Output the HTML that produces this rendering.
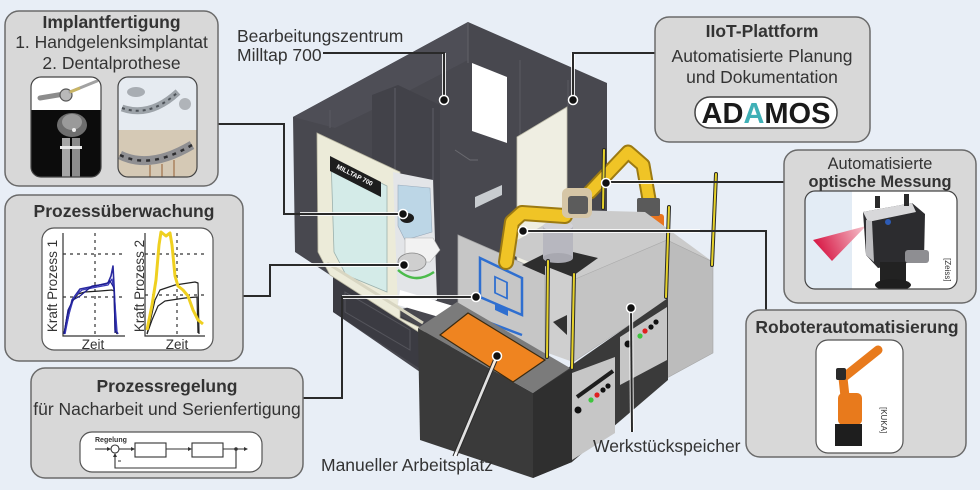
<!DOCTYPE html>
<html><head><meta charset="utf-8"><style>
html,body{margin:0;padding:0;background:#e8eef6;}
svg{display:block;font-family:"Liberation Sans",Arial,sans-serif;}
</style></head><body>
<svg width="980" height="490" viewBox="0 0 980 490" xmlns="http://www.w3.org/2000/svg">
<defs>
<linearGradient id="cone" x1="1" y1="0" x2="0" y2="0.3"><stop offset="0" stop-color="#f6c6cf"/><stop offset="1" stop-color="#d81c48"/></linearGradient>
<clipPath id="c1"><rect x="31" y="77" width="70" height="100" rx="10"/></clipPath>
<clipPath id="c2"><rect x="118" y="77" width="79" height="100" rx="10"/></clipPath>
<clipPath id="c3"><rect x="805" y="191" width="152" height="98" rx="10"/></clipPath>
</defs>
<rect width="980" height="490" fill="#e8eef6"/>

<!-- ===== Machine body ===== -->
<polygon points="293,117 468,22 607,83 607,260 470,330 420,372 333,312 333,277 295,252" fill="#48484f"/>
<polygon points="293,117 468,22 468,60 372,110 335,128" fill="#4e4e56"/>
<polygon points="372,95 398,85 440,105 440,300 400,312 372,160" fill="#424249"/>
<polyline points="468,22 468,63" stroke="#5e5e66" stroke-width="1.2" fill="none"/>
<polyline points="395,88 395,170" stroke="#5e5e66" stroke-width="1" fill="none"/>
<polyline points="433,108 433,300" stroke="#5e5e66" stroke-width="1" fill="none"/>
<polyline points="520,60 520,135" stroke="#5a5a62" stroke-width="1" fill="none"/>
<polyline points="568,80 568,106" stroke="#5a5a62" stroke-width="1" fill="none"/>
<polyline points="330,110 330,128" stroke="#5a5a62" stroke-width="1" fill="none"/>
<!-- window -->
<polygon points="472,63 507,77 507,143 472,131" fill="#ffffff"/>
<!-- silver slot -->
<polygon points="475,197 502,185 502,195 475,208" fill="#c8ccd0"/>
<polyline points="455,150 470,160 478,160" stroke="#6a6a70" stroke-width="1" fill="none"/>
<!-- right door -->
<polygon points="517,137 567,107 567,245 517,272" fill="#efeee2" stroke="#bfbdaa" stroke-width="0.8"/>
<!-- base front -->
<polygon points="333,277 425,330 425,372 333,312" fill="#3b3b42"/>
<polygon points="345,292 410,330 410,350 345,312" fill="none" stroke="#55555c" stroke-width="1"/>
<!-- left door frame -->
<polygon points="317,133 400,172 400,318 425,330 425,336 330,275 318,252" fill="#ecebd9" stroke="#b9b7a2" stroke-width="0.8"/>
<polygon points="331,158 387,186 387,292 346,275 334,252" fill="#d4ebe8" stroke="#9cb1ad" stroke-width="0.8"/>
<polygon points="330,156 381,182 381,197 330,171" fill="#1e1e1e"/>
<text x="0" y="0" transform="translate(336,168) rotate(27)" font-size="6.5" font-weight="bold" fill="#ffffff">MILLTAP 700</text>
<!-- interior -->
<polygon points="393,172 433,180 437,300 398,310" fill="#e3e5e8"/>
<polygon points="398,185 430,188 432,232 405,240 398,226" fill="#bcd6e6" stroke="#9ab" stroke-width="0.6"/>
<ellipse cx="407" cy="218" rx="7" ry="5" fill="#1c1c1c"/>
<polygon points="405,238 433,238 440,250 430,262 405,262" fill="#f2f2f2" stroke="#b0b0b0" stroke-width="0.6"/>
<ellipse cx="412" cy="262" rx="14" ry="9" fill="#cfcfcf" stroke="#888" stroke-width="0.8"/>
<path d="M398,270 Q415,285 434,272" stroke="#4cbb4c" stroke-width="2.5" fill="none"/>
<polygon points="400,290 460,308 456,322 398,305" fill="#ffffff"/>
<polyline points="327,263 423,323" stroke="#d8d6c2" stroke-width="3" fill="none"/>

<!-- ===== Robot 1 (back) ===== -->
<path d="M650,205 L643,165 L628,152 L590,192" stroke="#9c7a12" stroke-width="15" fill="none" stroke-linejoin="round" stroke-linecap="round"/>
<path d="M650,205 L643,165 L628,152 L590,192" stroke="#f0c426" stroke-width="11" fill="none" stroke-linejoin="round" stroke-linecap="round"/>
<rect x="630" y="214" width="34" height="20" rx="3" fill="#e8741e"/>
<rect x="637" y="198" width="23" height="18" rx="2" fill="#5a5a5a"/>

<!-- ===== Cell top ===== -->
<polygon points="500,250 570,210 645,212 713,262 667,240 573,280" fill="#cbcbcb"/>
<!-- monitor panel -->
<polygon points="458,235 545,273 545,360 458,322" fill="#c6c6c6" stroke="#a8a8a8" stroke-width="0.8"/>
<polygon points="480,258 522,278 522,315 480,297" fill="none" stroke="#2f6fd0" stroke-width="2.5"/>
<rect x="495" y="277" width="12" height="16" fill="none" stroke="#2f6fd0" stroke-width="1.8" transform="skewY(25) translate(0,-231)"/>
<polygon points="495,303 508,309 508,316 495,310" fill="#2f6fd0"/>
<polyline points="480,319 522,335" stroke="#2f6fd0" stroke-width="2.5" fill="none"/>
<!-- pad & cylinder -->
<polygon points="522,265 556,248 598,258 563,283" fill="#2e2e2e"/>
<rect x="543" y="226" width="30" height="32" fill="#b7b7bf"/>
<ellipse cx="558" cy="258" rx="15" ry="5" fill="#a8a8b0"/>
<ellipse cx="558" cy="226" rx="15" ry="5" fill="#d2d2d8"/>
<!-- robot 2 -->
<path d="M506,262 L512,222 L522,213 L565,216" stroke="#9c7a12" stroke-width="16" fill="none" stroke-linejoin="round" stroke-linecap="round"/>
<path d="M506,262 L512,222 L522,213 L565,216" stroke="#f0c426" stroke-width="12" fill="none" stroke-linejoin="round" stroke-linecap="round"/>
<rect x="562" y="188" width="30" height="30" rx="6" fill="#d6c6a6"/>
<rect x="568" y="196" width="20" height="18" rx="3" fill="#5c5c5c"/>
<!-- upper cube -->
<polygon points="545,266 573,277 573,362 545,352" fill="#cfcfcf"/>
<polygon points="553,322 567,315 567,335" fill="#333"/>
<polygon points="573,280 667,240 667,300 573,362" fill="#c4c4c4" stroke="#aaa" stroke-width="0.6"/>
<polygon points="667,240 713,262 713,353 667,378" fill="#bcbcbc" stroke="#a5a5a5" stroke-width="0.6"/>
<!-- lower dark band -->
<polygon points="533,393 572,365 668,298 668,380 572,462 533,478" fill="#3a3a3a"/>
<polygon points="572,373 615,357 615,433 572,460" fill="#c6c6c6"/>
<polyline points="577,397 613,371" stroke="#1e1e1e" stroke-width="4"/>
<circle cx="591" cy="400" r="2.6" fill="#3ec43e"/>
<circle cx="597" cy="395" r="2.6" fill="#e02020"/>
<circle cx="603" cy="390" r="2.6" fill="#111"/>
<circle cx="608" cy="386" r="2.6" fill="#111"/>
<circle cx="578" cy="410" r="3.5" fill="#111"/>
<polygon points="620,337 667,307 667,360 620,385" fill="#c6c6c6"/>
<circle cx="640" cy="336" r="2.6" fill="#3ec43e"/>
<circle cx="645" cy="331" r="2.6" fill="#e02020"/>
<circle cx="651" cy="327" r="2.6" fill="#111"/>
<circle cx="656" cy="322" r="2.6" fill="#111"/>
<circle cx="628" cy="344" r="3.5" fill="#111"/>
<!-- manual workstation -->
<polygon points="418,328 533,393 533,478 420,440" fill="#3a3a3a"/>
<polygon points="533,393 572,368 572,462 533,478" fill="#2f2f2f"/>
<polygon points="418,328 457,302 570,368 533,393" fill="#7b7b7b"/>
<polygon points="440,335 468,313 545,360 513,382" fill="#ef8420" stroke="#3a2a10" stroke-width="1.2"/>
<!-- posts -->
<g stroke-linecap="round">
<g stroke="#2a2a2a" stroke-width="4"><line x1="548" y1="261" x2="547" y2="357"/><line x1="574" y1="274" x2="572" y2="368"/><line x1="669" y1="207" x2="666" y2="297"/><line x1="716" y1="174" x2="712" y2="265"/><line x1="604" y1="150" x2="603" y2="208"/></g>
<g stroke="#e6d22a" stroke-width="2"><line x1="548" y1="261" x2="547" y2="357"/><line x1="574" y1="274" x2="572" y2="368"/><line x1="669" y1="207" x2="666" y2="297"/><line x1="716" y1="174" x2="712" y2="265"/><line x1="604" y1="150" x2="603" y2="208"/></g>
</g>

<!-- ===== Leader lines ===== -->
<g fill="none" stroke-linejoin="miter">
<g stroke="#ffffff" stroke-width="4" opacity="0.85">
<polyline points="444,53 444,100"/><polyline points="573,53 573,100"/>
<polyline points="300,214 403,214"/><polyline points="300,265 404,265"/><polyline points="342,297 476,297"/>
<polyline points="606,182 680,182"/><polyline points="523,231 700,231"/>
<polyline points="455,456 497,356"/><polyline points="631,308 632,432"/>
</g>
<g stroke="#2a2a2a" stroke-width="2">
<polyline points="323,53 444,53 444,100"/>
<polyline points="655,53 573,53 573,100"/>
<polyline points="218,124 284,124 284,214 403,214"/>
<polyline points="243,296 270,296 270,265 404,265"/>
<polyline points="303,398 342,398 342,297 476,297"/>
<polyline points="784,182 606,182"/>
<polyline points="523,231 766,231 766,310"/>
<polyline points="631,308 632,432"/>
</g>
<polyline points="453,456 495,356" stroke="#2a2a2a" stroke-width="1"/>
<polyline points="457,456 499,356" stroke="#2a2a2a" stroke-width="1"/>
</g>
<g fill="#111" stroke="#ffffff" stroke-width="1.5">
<circle cx="444" cy="100" r="4.5"/><circle cx="573" cy="100" r="4.5"/>
<circle cx="403" cy="214" r="4.5"/><circle cx="404" cy="265" r="4.5"/>
<circle cx="476" cy="297" r="4.5"/><circle cx="606" cy="183" r="4.5"/>
<circle cx="523" cy="231" r="4.5"/><circle cx="497" cy="356" r="4.5"/>
<circle cx="631" cy="308" r="4.5"/>
</g>

<!-- ===== Boxes ===== -->
<g fill="#d8d8d8" stroke="#6a6a6a" stroke-width="1.5">
<rect x="5" y="11" width="213" height="175" rx="14"/>
<rect x="5" y="195" width="238" height="166" rx="14"/>
<rect x="31" y="368" width="272" height="110" rx="14"/>
<rect x="655" y="17" width="215" height="125" rx="14"/>
<rect x="784" y="150" width="192" height="153" rx="14"/>
<rect x="746" y="310" width="220" height="147" rx="14"/>
</g>

<!-- Implant images -->
<g clip-path="url(#c1)">
<rect x="31" y="77" width="70" height="100" fill="#0c0c0c"/>
<rect x="31" y="77" width="70" height="33" fill="#ffffff"/>
<line x1="40" y1="98" x2="64" y2="94" stroke="#8c8c8c" stroke-width="5" stroke-linecap="round"/>
<circle cx="66" cy="95" r="6" fill="#b9b9b9" stroke="#555" stroke-width="1.2"/>
<line x1="70" y1="92" x2="97" y2="81" stroke="#a2a2a2" stroke-width="3" stroke-linecap="round"/>
<line x1="70" y1="92" x2="80" y2="88" stroke="#c8b464" stroke-width="3"/>
<ellipse cx="72" cy="125" rx="15" ry="12" fill="#6e6e6e"/>
<ellipse cx="72" cy="122" rx="10" ry="8" fill="#9a9a9a"/>
<rect x="62" y="138" width="8" height="40" fill="#a6a6a6"/>
<rect x="72" y="138" width="8" height="40" fill="#8c8c8c"/>
<rect x="60" y="146" width="22" height="3" fill="#e8e8e8"/>
<circle cx="74" cy="130" r="2" fill="#eee"/>
</g>
<rect x="31" y="77" width="70" height="100" rx="10" fill="none" stroke="#444" stroke-width="1.2"/>
<g clip-path="url(#c2)">
<rect x="118" y="77" width="79" height="100" fill="#d5c9b5"/>
<rect x="118" y="77" width="79" height="53" fill="#e6ebf1"/>
<path d="M122,108 Q150,118 178,92" stroke="#9da3a9" stroke-width="7" fill="none"/>
<path d="M122,108 Q150,118 178,92" stroke="#4d5258" stroke-width="2" fill="none" stroke-dasharray="3,4"/>
<ellipse cx="136" cy="92" rx="9" ry="5" fill="#a8adb3"/>
<circle cx="185" cy="104" r="6" fill="#b0b4b9"/>
<path d="M120,155 Q150,170 192,145" stroke="#8f8f92" stroke-width="9" fill="none"/>
<path d="M120,155 Q150,170 192,145" stroke="#2e2e30" stroke-width="2.5" fill="none" stroke-dasharray="4,5"/>
<g stroke="#b59474" stroke-width="2"><line x1="150" y1="165" x2="150" y2="177"/><line x1="162" y1="164" x2="162" y2="177"/><line x1="174" y1="160" x2="174" y2="177"/></g>
</g>
<rect x="118" y="77" width="79" height="100" rx="10" fill="none" stroke="#444" stroke-width="1.2"/>

<!-- Chart -->
<rect x="42" y="228" width="171" height="122" rx="12" fill="#ffffff" stroke="#555" stroke-width="1.2"/>
<g stroke="#333" stroke-width="1.2" fill="none">
<polyline points="63,233 63,336 125,336"/>
<polyline points="145,233 145,336 205,336"/>
</g>
<g stroke="#333" stroke-width="1.2" stroke-dasharray="3,4" fill="none">
<line x1="63" y1="254" x2="125" y2="254"/><line x1="63" y1="297" x2="125" y2="297"/><line x1="95" y1="233" x2="95" y2="336"/>
<line x1="145" y1="254" x2="205" y2="254"/><line x1="145" y1="295" x2="205" y2="295"/><line x1="177" y1="233" x2="177" y2="336"/>
</g>
<g fill="none" stroke-linejoin="round">
<polyline points="64,334 67,316 72,302 78,294 85,292 100,291 112,290 114,291 115,330 117,334" stroke="#222" stroke-width="1.2"/>
<polyline points="64,334 68,318 72,300 80,289 95,286 108,283 111,276 113,266 114,285 116,330 118,334" stroke="#2a2aa0" stroke-width="1.6"/>
<polyline points="65,334 69,314 74,297 82,290 97,287 108,285 112,279 114,290 117,331" stroke="#3838b8" stroke-width="1.3"/>
<polyline points="64,334 68,310 73,300 80,296 92,286 106,284 110,281 114,288 115,333" stroke="#1c1c90" stroke-width="1.2"/>
<polyline points="147,334 151,318 155,300 160,290 175,285 195,282 198,283 199,334" stroke="#222" stroke-width="1.2"/>
<polyline points="147,334 152,320 158,306 165,301 185,298 197,297 198,333" stroke="#222" stroke-width="1.2"/>
<polyline points="147,330 152,305 156,280 159,245 161,232 166,236 170,233 172,245 175,276 178,286 183,290 188,296 193,310 198,320 203,324" stroke="#efd020" stroke-width="3"/>
</g>
<g font-size="13.5" fill="#333" text-anchor="middle">
<text x="0" y="0" transform="translate(57,286) rotate(-90)">Kraft Prozess 1</text>
<text x="0" y="0" transform="translate(144,286) rotate(-90)">Kraft Prozess 2</text>
<text x="93" y="349">Zeit</text>
<text x="177" y="349">Zeit</text>
</g>

<!-- Regelung -->
<rect x="80" y="432" width="182" height="40" rx="12" fill="#ffffff" stroke="#555" stroke-width="1.2"/>
<text x="95" y="442" font-size="7" font-weight="bold" fill="#333">Regelung</text>
<g stroke="#333" stroke-width="1.1" fill="none">
<line x1="95" y1="449" x2="110" y2="449"/>
<circle cx="115" cy="449" r="4" fill="#fff"/>
<line x1="119" y1="449" x2="134" y2="449"/>
<rect x="135" y="443" width="31" height="14" fill="#fff"/>
<line x1="166" y1="449" x2="191" y2="449"/>
<rect x="192" y="443" width="31" height="14" fill="#fff"/>
<line x1="223" y1="449" x2="245" y2="449"/>
<polyline points="236,449 236,468 115,468 115,454"/>
</g>
<g fill="#333">
<polygon points="111,449 107,447 107,451"/><polygon points="135,449 131,447 131,451"/>
<polygon points="192,449 188,447 188,451"/><polygon points="248,449 244,447 244,451"/>
<polygon points="115,453 113,457 117,457"/><circle cx="236" cy="449" r="1.8"/>
</g>
<line x1="118" y1="461" x2="121" y2="461" stroke="#333" stroke-width="1"/>

<!-- ADAMOS -->
<rect x="695" y="97" width="142" height="31" rx="15" fill="#ffffff" stroke="#444" stroke-width="1.5"/>
<text x="766" y="123" font-size="29" font-weight="bold" fill="#1a1a1a" text-anchor="middle">AD<tspan fill="#3fb0b6">A</tspan>MOS</text>

<!-- Optical image -->
<g clip-path="url(#c3)">
<rect x="805" y="191" width="152" height="98" fill="#ffffff"/>
<rect x="805" y="191" width="47" height="98" fill="#e3ecf5"/>
<polygon points="866,226 813,240 832,261" fill="url(#cone)"/>
<polygon points="863,212 912,203 925,214 924,260 878,268 866,255" fill="#2c2c2f"/>
<polygon points="863,212 912,203 916,212 868,222" fill="#d8d8da"/>
<polygon points="866,220 872,221 874,262 866,255" fill="#bdbdc0"/>
<rect x="875" y="196" width="5" height="12" fill="#2a2a2a"/><rect x="904" y="194" width="5" height="12" fill="#2a2a2a"/>
<rect x="880" y="262" width="26" height="20" fill="#222"/>
<ellipse cx="893" cy="285" rx="18" ry="6" fill="#1e1e1e"/>
<rect x="905" y="250" width="24" height="13" rx="3" fill="#8e8e92"/>
<circle cx="888" cy="222" r="3" fill="#2d5bb5"/>
</g>
<rect x="805" y="191" width="152" height="98" rx="10" fill="none" stroke="#444" stroke-width="1.2"/>
<text x="0" y="0" transform="translate(945,258) rotate(90)" font-size="8" fill="#333">[Zeiss]</text>

<!-- KUKA image -->
<rect x="816" y="340" width="87" height="113" rx="12" fill="#ffffff" stroke="#555" stroke-width="1.2"/>
<rect x="825" y="345" width="60" height="103" fill="#ffffff"/>
<path d="M847,415 L843,378 L878,350" stroke="#e87a1c" stroke-width="9" fill="none" stroke-linejoin="round" stroke-linecap="round"/>
<rect x="838" y="393" width="24" height="32" rx="5" fill="#e87a1c"/>
<rect x="836" y="368" width="10" height="12" rx="2" fill="#2a2a2a"/>
<rect x="835" y="424" width="27" height="22" fill="#1e1e1e"/>
<text x="0" y="0" transform="translate(881,407) rotate(90)" font-size="8" fill="#333">[KUKA]</text>

<!-- ===== Texts ===== -->
<g fill="#333" font-size="17.5" text-anchor="middle">
<text x="111.5" y="28" font-weight="bold">Implantfertigung</text>
<text x="111.5" y="48">1. Handgelenksimplantat</text>
<text x="111.5" y="69">2. Dentalprothese</text>
<text x="124" y="217" font-weight="bold">Prozessüberwachung</text>
<text x="167" y="392" font-weight="bold">Prozessregelung</text>
<text x="167" y="415">für Nacharbeit und Serienfertigung</text>
<text x="762" y="37" font-weight="bold">IIoT-Plattform</text>
<text x="762" y="62">Automatisierte Planung</text>
<text x="762" y="83">und Dokumentation</text>
<text x="880" y="169" font-size="16.4">Automatisierte</text>
<text x="880" y="187" font-size="16.4" font-weight="bold">optische Messung</text>
<text x="857" y="333" font-weight="bold">Roboterautomatisierung</text>
</g>
<g fill="#333" font-size="17.5">
<text x="237" y="42">Bearbeitungszentrum</text>
<text x="237" y="61">Milltap 700</text>
<text x="321" y="471">Manueller Arbeitsplatz</text>
<text x="593" y="452">Werkstückspeicher</text>
</g>
</svg>
</body></html>
